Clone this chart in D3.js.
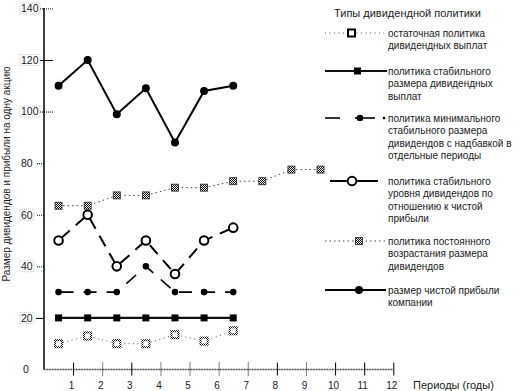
<!DOCTYPE html>
<html><head><meta charset="utf-8">
<script src="https://cdn.jsdelivr.net/npm/d3@7"></script>
<style>
body{margin:0;background:#fff;}
text{font-family:"Liberation Sans",Arial,sans-serif;fill:#1a1a1a;}
</style></head>
<body><svg id="c" width="530" height="391"></svg>
<script>
// ---- data ----
const xTicks = [1,2,3,4,5,6,7,8,9,10,11,12];
const yTicks = [0,20,40,60,80,100,120,140];
const periods7 = [0.5,1.5,2.5,3.5,4.5,5.5,6.5];
const periods10 = [0.5,1.5,2.5,3.5,4.5,5.5,6.5,7.5,8.5,9.5];
const residual = [10,13,10,10,13.5,11,15];
const stable = [20,20,20,20,20,20,20];
const minimalExtra = [30,30,30,40,30,30,30];
const stableRatio = [50,60,40,50,37,50,55];
const constantGrowth = [63.5,63.5,67.5,67.5,70.5,70.5,73,73,77.5,77.5];
const netIncome = [110,120,99,109,88,108,110];
const legendTitle = "Типы дивидендной политики";
const legendLabels = [
  ["остаточная политика","дивидендных выплат"],
  ["политика стабильного","размера дивидендных","выплат"],
  ["политика минимального","стабильного размера","дивидендов с надбавкой в","отдельные периоды"],
  ["политика стабильного","уровня дивидендов по","отношению к чистой","прибыли"],
  ["политика постоянного","возрастания размера","дивидендов"],
  ["размер чистой прибыли","компании"]
];
const yTitle = "Размер дивидендов и прибыли на одну акцию";
const xTitle = "Периоды (годы)";

// ---- drawing ----
const svg = d3.select("#c");
const defs = svg.append("defs");
const pat = defs.append("pattern").attr("id","chk").attr("width",2).attr("height",2).attr("patternUnits","userSpaceOnUse");
pat.append("rect").attr("width",2).attr("height",2).attr("fill","#fff");
pat.append("rect").attr("width",1).attr("height",1).attr("fill","#000");
pat.append("rect").attr("x",1).attr("y",1).attr("width",1).attr("height",1).attr("fill","#000");

const x = d3.scaleLinear().domain([0,12]).range([44,393.3]);
const y = d3.scaleLinear().domain([0,140]).range([369.5,8.4]);

// y axis
const gy = svg.append("g").attr("transform","translate(44,0)")
  .call(d3.axisLeft(y).tickValues(yTicks).tickSize(8).tickFormat(""));
gy.select(".domain").attr("stroke","#000").attr("stroke-width",1.5).attr("d","M0,8V369.5");
gy.selectAll(".tick line").attr("stroke","#000")
  .attr("stroke-dasharray",d=>(d===20||d===120)?null:"1,1")
  .attr("x2",d=>(d>=100)?9:-8).attr("x1",d=>(d>=100)?-4:0);
gy.selectAll(".tick").filter(d=>d===0).select("line").remove();
// y tick labels (left aligned)
yTicks.forEach(v=>{
  svg.append("text").attr("x",v===0?23:21).attr("y",y(v)+3.8).attr("font-size",10.5).text(v);
  if(v!==0 && v!==80){
    svg.append("rect").attr("x",20).attr("y",y(v)-5.5).attr("width",v>=100?20:14).attr("height",11)
      .attr("fill","none").attr("stroke","#bbb").attr("stroke-width",0.8).attr("stroke-dasharray","1,1");
  }
});

// x axis
const gx = svg.append("g").attr("transform","translate(0,369.5)")
  .call(d3.axisBottom(x).tickValues(xTicks).tickSize(6).tickFormat(""));
gx.select(".domain").attr("stroke","#333").attr("stroke-width",1.5).attr("stroke-dasharray","1,0.6").attr("d","M44,0H393.3");
const solidX = [1,3,8,10,11,12];
gx.selectAll(".tick line").attr("y1",-7).attr("y2",6).attr("stroke","#000")
  .attr("stroke-dasharray",d=>solidX.includes(d)?null:"1,1");
xTicks.forEach(v=>{
  svg.append("text").attr("x",x(v)-1.5).attr("y",389).attr("text-anchor","middle").attr("font-size",10).text(v);
});
svg.append("text").attr("x",413).attr("y",389).attr("font-size",11).text(xTitle);
svg.append("text").attr("transform","translate(10,174) rotate(-90)").attr("text-anchor","middle").attr("font-size",10).text(yTitle);

const line = d3.line().x(d=>x(d[0])).y(d=>y(d[1]));
function pts(xs,vs){return xs.map((v,i)=>[v,vs[i]]);}

// residual
svg.append("path").datum(pts(periods7,residual)).attr("d",line).attr("fill","none")
  .attr("stroke","#555").attr("stroke-width",1).attr("stroke-dasharray","1,3.5");
svg.selectAll(".res").data(pts(periods7,residual)).join("rect")
  .attr("x",d=>x(d[0])-3.5).attr("y",d=>y(d[1])-3.5).attr("width",7).attr("height",7)
  .attr("fill","#fff").attr("stroke","url(#chk)").attr("stroke-width",2);

// stable
svg.append("path").datum(pts(periods7,stable)).attr("d",line).attr("fill","none")
  .attr("stroke","#111").attr("stroke-width",2.2);
svg.selectAll(".st").data(pts(periods7,stable)).join("rect")
  .attr("x",d=>x(d[0])-3.5).attr("y",d=>y(d[1])-3.5).attr("width",7).attr("height",7).attr("fill","#000");

// minimal extra
svg.append("path").datum(pts(periods7,minimalExtra)).attr("d",line).attr("fill","none")
  .attr("stroke","#000").attr("stroke-width",1.6).attr("stroke-dasharray","13,10").attr("stroke-dashoffset",-2);
svg.selectAll(".mn").data(pts(periods7,minimalExtra)).join("circle")
  .attr("cx",d=>x(d[0])).attr("cy",d=>y(d[1])).attr("r",3.3).attr("fill","#000");

// stable ratio
svg.append("path").datum(pts(periods7,stableRatio)).attr("d",line).attr("fill","none")
  .attr("stroke","#000").attr("stroke-width",2).attr("stroke-dasharray","12,8").attr("stroke-dashoffset",-3);
svg.selectAll(".sr").data(pts(periods7,stableRatio)).join("circle")
  .attr("cx",d=>x(d[0])).attr("cy",d=>y(d[1])).attr("r",4.3).attr("fill","#fff").attr("stroke","#000").attr("stroke-width",2);

// constant growth
svg.append("path").datum(pts(periods10,constantGrowth)).attr("d",line).attr("fill","none")
  .attr("stroke","#444").attr("stroke-width",1).attr("stroke-dasharray","1.5,3");
svg.selectAll(".cg").data(pts(periods10,constantGrowth)).join("rect")
  .attr("x",d=>x(d[0])-3.5).attr("y",d=>y(d[1])-3.5).attr("width",7).attr("height",7)
  .attr("fill","url(#chk)").attr("stroke","#222").attr("stroke-width",0.8);

// net income
svg.append("path").datum(pts(periods7,netIncome)).attr("d",line).attr("fill","none")
  .attr("stroke","#000").attr("stroke-width",2);
svg.selectAll(".ni").data(pts(periods7,netIncome)).join("circle")
  .attr("cx",d=>x(d[0])).attr("cy",d=>y(d[1])).attr("r",4).attr("fill","#000");

// legend
svg.append("text").attr("x",334).attr("y",17).attr("font-size",11).text(legendTitle);
const legY = [33,71,118,181,241,290];
const lh = 12.5;
legendLabels.forEach((lines,i)=>{
  const t = svg.append("text").attr("font-size",10);
  lines.forEach((s,j)=>t.append("tspan").attr("x",388).attr("y",legY[i]+3.5+j*lh).text(s));
});
const L = svg.append("g");
// 1
L.append("line").attr("x1",325).attr("x2",384).attr("y1",legY[0]).attr("y2",legY[0]).attr("stroke","#555").attr("stroke-dasharray","1,3.5");
L.append("rect").attr("x",348).attr("y",legY[0]-3.5).attr("width",7).attr("height",7).attr("fill","#fff").attr("stroke","#000").attr("stroke-width",2);
// 2
L.append("line").attr("x1",325).attr("x2",387).attr("y1",legY[1]).attr("y2",legY[1]).attr("stroke","#111").attr("stroke-width",2.2);
L.append("rect").attr("x",354).attr("y",legY[1]-3.5).attr("width",7).attr("height",7).attr("fill","#000");
// 3
L.append("line").attr("x1",325).attr("x2",340).attr("y1",legY[2]).attr("y2",legY[2]).attr("stroke","#000").attr("stroke-width",1.6);
L.append("line").attr("x1",355).attr("x2",375).attr("y1",legY[2]).attr("y2",legY[2]).attr("stroke","#000").attr("stroke-width",1.6);
L.append("circle").attr("cx",360).attr("cy",legY[2]).attr("r",3.3).attr("fill","#000");
L.append("circle").attr("cx",384).attr("cy",legY[2]).attr("r",1.3).attr("fill","#000");
// 4
L.append("line").attr("x1",330).attr("x2",378).attr("y1",legY[3]).attr("y2",legY[3]).attr("stroke","#000").attr("stroke-width",2);
L.append("circle").attr("cx",352).attr("cy",legY[3]).attr("r",4.3).attr("fill","#fff").attr("stroke","#000").attr("stroke-width",2);
// 5
L.append("line").attr("x1",325).attr("x2",387).attr("y1",legY[4]).attr("y2",legY[4]).attr("stroke","#444").attr("stroke-dasharray","1.5,3");
L.append("rect").attr("x",355.5).attr("y",legY[4]-3.5).attr("width",7).attr("height",7).attr("fill","url(#chk)").attr("stroke","#222").attr("stroke-width",0.8);
// 6
L.append("line").attr("x1",325).attr("x2",386).attr("y1",legY[5]).attr("y2",legY[5]).attr("stroke","#000").attr("stroke-width",2);
L.append("circle").attr("cx",359).attr("cy",legY[5]).attr("r",4).attr("fill","#000");
</script></body></html>
